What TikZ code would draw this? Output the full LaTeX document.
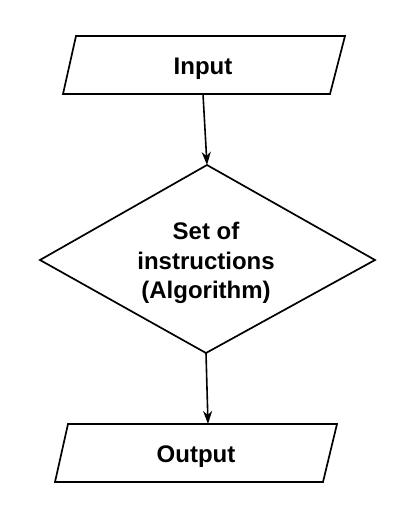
\documentclass[tikz,border=0pt]{standalone}
\usepackage{fontspec}
\setmainfont{Liberation Sans}
\usetikzlibrary{arrows.meta}
\begin{document}
\begin{tikzpicture}[x=1pt,y=-1pt,
  shapeline/.style={line width=1.7pt, line join=miter},
  lbl/.style={font=\fontsize{24}{29.5}\selectfont\bfseries, align=center, inner sep=0pt},
  conn/.style={line width=1.6pt, -{Stealth[length=13pt,width=9pt,inset=4pt]}}]
\useasboundingbox (0,0) rectangle (407,520);
% Input parallelogram
\coordinate (i1) at (76,36);
\coordinate (i2) at (345,36);
\coordinate (i3) at (330,94);
\coordinate (i4) at (63,94);
\draw[shapeline] (i1) -- (i2) -- (i3) -- (i4) -- cycle;
\node[lbl, anchor=base] (inp) at (203,74) {Input};
\coordinate (inb) at (203,94);
% Diamond
\coordinate (dt) at (207,165);
\coordinate (dr) at (375,260);
\coordinate (db) at (206,353);
\coordinate (dl) at (40,260);
\draw[shapeline] (dt) -- (dr) -- (db) -- (dl) -- cycle;
\node[lbl] (alg) at (206,263) {Set of\\instructions\\(Algorithm)};
% Output parallelogram
\coordinate (o1) at (68,424);
\coordinate (o2) at (337,424);
\coordinate (o3) at (323,482);
\coordinate (o4) at (55,482);
\draw[shapeline] (o1) -- (o2) -- (o3) -- (o4) -- cycle;
\node[lbl, anchor=base] (outp) at (196,462) {Output};
\coordinate (ot) at (208,424);
% connectors
\draw[conn] (inb) -- (dt);
\draw[conn] (db) -- (ot);
\end{tikzpicture}
\end{document}
